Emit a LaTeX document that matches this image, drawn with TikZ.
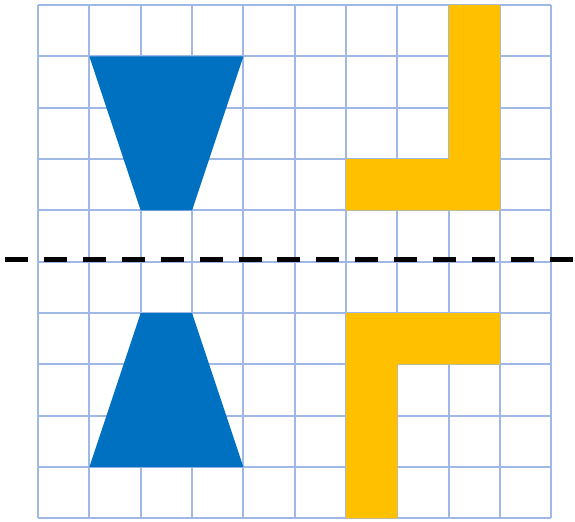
\documentclass[tikz,border=0pt]{standalone}
\usetikzlibrary{positioning}

\definecolor{gridblue}{RGB}{160,184,230}
\definecolor{shapeblue}{RGB}{0,112,192}
\definecolor{shapegold}{RGB}{255,192,0}

\begin{document}
\begin{tikzpicture}[
        x=1cm, y=1cm,
        gridline/.style={
            draw=gridblue,
            line width=1.1pt
        },
        bluepart/.style={
            fill=shapeblue
        },
        goldpart/.style={
            fill=shapegold
        },
        mirrorline/.style={
            draw=black,
            line width=2.5pt,
            dash pattern=on 0.448cm off 0.31cm
        }
    ]

    \useasboundingbox (-0.740,-0.058) rectangle (10.458,10.097);

    % squared paper
    \draw[gridline] (0,0) grid (10,10);

    % upper half
    \fill[bluepart] (1,9) -- (4,9) -- (3,6) -- (2,6) -- cycle;
    \fill[goldpart] (8,10) -- (9,10) -- (9,6) -- (6,6) -- (6,7) -- (8,7) -- cycle;

    % lower half (reflection)
    \fill[bluepart] (2,4) -- (3,4) -- (4,1) -- (1,1) -- cycle;
    \fill[goldpart] (6,0) -- (7,0) -- (7,3) -- (9,3) -- (9,4) -- (6,4) -- cycle;

    % axis of symmetry
    \coordinate (axisL) at (-0.643,5.04);
    \coordinate (axisR) at (10.458,5.04);
    \draw[mirrorline] (axisL) -- (axisR);

\end{tikzpicture}
\end{document}
